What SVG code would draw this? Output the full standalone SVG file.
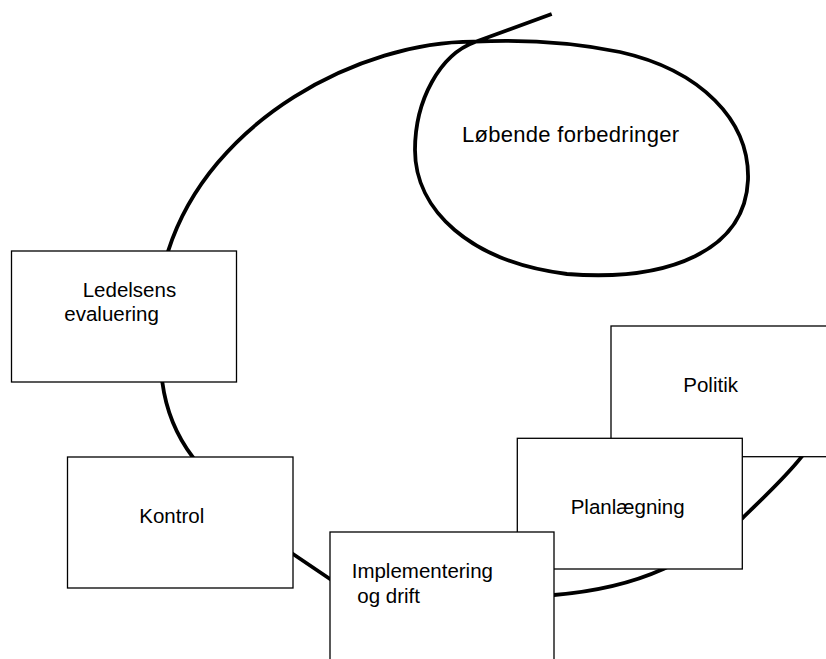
<svg xmlns="http://www.w3.org/2000/svg" width="826" height="659" viewBox="0 0 826 659">
<style>
.box{fill:#fff;stroke:#000;stroke-width:1.3}
.lbl{font-family:"Liberation Sans",Arial,sans-serif;font-size:20.5px;fill:#000}
.curve{fill:none;stroke:#000;stroke-width:3.8;stroke-linejoin:round}
</style>
<rect width="826" height="659" fill="#fff"/>
<g id="connectors">
<path class="curve" d="M551.7,14 L475,42 C440,54.6 415,100 415,150 C415,210 470,262 567,274 C670,282 745,250 748,180 C750,120 700,70 620,52 C560,40 510,40 475,41.7 C360,41 210,120 168.3,250.7 C155,292 158,350 162.3,382 C166,410 176,435 192.7,457 C217.7,502 263,534 293,554 L330,579 C367,604 464,602 554,595 C590,592 630,584 663.3,569 C700,552 725,535 742.3,518.3 C762,499 785,478 801.7,456.7 C808,448 812,442 815,436"/>
</g>
<g id="node-loebende">
<text class="lbl" x="462" y="141.7" style="font-size:22px" textLength="217" lengthAdjust="spacing">Løbende forbedringer</text>
</g>
<g id="node-ledelsens">
<rect class="box" x="11.5" y="251" width="225" height="131"/>
<text class="lbl" x="82.7" y="297">Ledelsens</text>
<text class="lbl" x="64.3" y="321">evaluering</text>
</g>
<g id="node-kontrol">
<rect class="box" x="67.5" y="457" width="225.5" height="131"/>
<text class="lbl" x="139.3" y="523.3">Kontrol</text>
</g>
<g id="node-politik">
<rect class="box" x="611" y="326" width="240" height="130.7"/>
<text class="lbl" x="683.3" y="391.7">Politik</text>
</g>
<g id="node-planlaegning">
<rect class="box" x="517.3" y="438.3" width="225" height="130.7"/>
<text class="lbl" x="570.7" y="514">Planlægning</text>
</g>
<g id="node-implementering">
<rect class="box" x="330" y="532" width="224" height="200"/>
<text class="lbl" x="351.7" y="578.3">Implementering</text>
<text class="lbl" x="357.3" y="602.7">og drift</text>
</g>
</svg>
